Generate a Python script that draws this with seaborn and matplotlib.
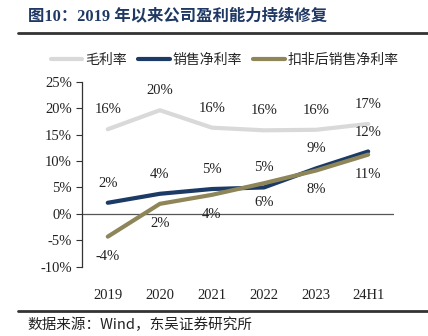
import matplotlib
matplotlib.use("Agg")
import matplotlib.pyplot as plt
import seaborn as sns
import pandas as pd
from matplotlib.lines import Line2D

# Profitability ratios, %
periods = ["2019", "2020", "2021", "2022", "2023", "24H1"]
gross_margin = [16.0, 19.6, 16.3, 15.8, 15.9, 17.0]
net_margin = [2.1, 3.8, 4.7, 5.0, 8.6, 11.8]
net_margin_deducted = [-4.3, 1.9, 3.6, 5.8, 8.2, 11.2]
series_names = ["毛利率", "销售净利率", "扣非后销售净利率"]
y_ticks = [-10, -5, 0, 5, 10, 15, 20, 25]

colors = ["#D9D9D9", "#1B3A66", "#8E8558"]
serif = ["Liberation Serif", "Noto Sans CJK SC"]
cjk = ["Noto Sans CJK SC", "DejaVu Sans"]

sns.set_theme(style="white")
plt.rcParams["font.family"] = serif

rows = []
for name, vals in zip(series_names, [gross_margin, net_margin, net_margin_deducted]):
    for i, (p, v) in enumerate(zip(periods, vals)):
        rows.append({"idx": i, "period": p, "series": name, "value": v})
df = pd.DataFrame(rows)

fig = plt.figure(figsize=(4.28, 3.36), dpi=100)
ax = fig.add_axes([0.191, 0.206, 0.73, 0.551])

sns.lineplot(data=df, x="idx", y="value", hue="series", hue_order=series_names,
             palette=colors, linewidth=3.0, ax=ax, legend=False, sort=False)

ax.set_xlim(-0.5, 5.5)
ax.set_ylim(-10, 25)
ax.set_yticks(y_ticks)
ax.set_yticklabels([f"{t}%" for t in y_ticks], fontsize=10.5, color="#222222")
ax.set_xticks(range(len(periods)))
ax.set_xticklabels(periods, fontsize=10.5, color="#222222")
ax.tick_params(axis="x", length=0, pad=16)
ax.tick_params(axis="y", length=4, width=0.8, color="#333333", direction="out", left=True, pad=3)
ax.set_xlabel("")
ax.set_ylabel("")
for s in ["top", "right", "bottom"]:
    ax.spines[s].set_visible(False)
ax.spines["left"].set_color("#333333")
ax.spines["left"].set_linewidth(0.9)
ax.axhline(0, color="#555555", linewidth=0.9, zorder=1)

# value labels: gross & net above, deducted below
def label(vals, dy):
    for i, v in enumerate(vals):
        ax.annotate(f"{round(v):.0f}%", (i, v), xytext=(0, dy), textcoords="offset points",
                    ha="center", va="center", fontsize=10.5, color="#222222")

label(gross_margin, 14)
label(net_margin, 14)
label(net_margin_deducted, -14)

handles = [Line2D([0], [0], color=c, linewidth=3.0) for c in colors]
fig.legend(handles, series_names, loc="center", bbox_to_anchor=(0.525, 0.822), ncol=3,
           frameon=False, prop={"family": cjk, "size": 10}, handlelength=2.3,
           handletextpad=0.2, columnspacing=0.8)

# title and rules
fig.text(0.065, 0.952, "图10：2019 年以来公司盈利能力持续修复", fontsize=11.8, fontweight="bold",
         color="#1F3864", ha="left", va="center", family=serif)
fig.add_artist(Line2D([0.042, 1.0], [0.902, 0.902], color="#333333", linewidth=2.0))
fig.add_artist(Line2D([0.042, 1.0], [0.074, 0.074], color="#333333", linewidth=2.0))
fig.text(0.065, 0.032, "数据来源：Wind，东吴证券研究所", fontsize=10.5, color="#222222",
         ha="left", va="center", family=cjk)

fig.savefig("out.png", dpi=100)
